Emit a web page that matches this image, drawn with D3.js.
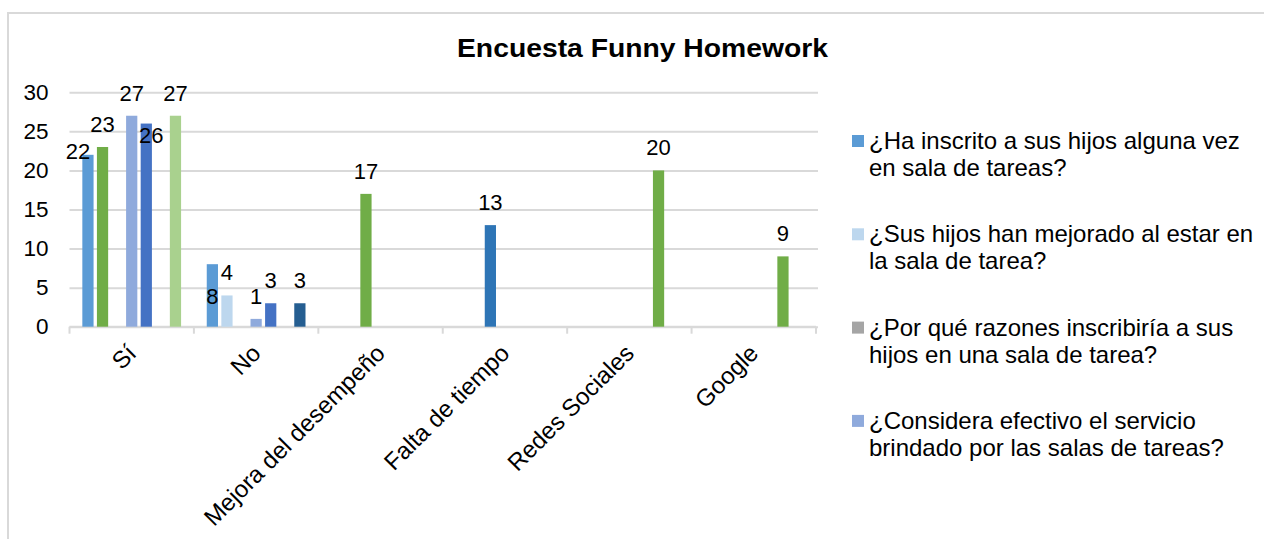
<!DOCTYPE html>
<html>
<head>
<meta charset="utf-8">
<script src="https://cdn.jsdelivr.net/npm/d3@7"></script>
<style>
  body { margin: 0; background: #fff; }
  text { font-family: "Liberation Sans", Arial, sans-serif; fill: #000; }
</style>
</head>
<body>
<div id="chart"></div>
<script>
// Data
const categories = ["Sí", "No", "Mejora del desempeño", "Falta de tiempo", "Redes Sociales", "Google"]

// one array per bar slot inside a category
const inscritoValues = [22, 8, null, null, null, null]
const mejoradoValues = [23, 4, null, null, null, null]
const razonesValues  = [null, null, 17, 13, null, null]
const efectivoValues = [27, 1, null, null, null, null]
const serie5Values   = [26, 3, null, null, null, null]
const serie6Values   = [null, null, null, null, 20, 9]
const serie7Values   = [27, 3, null, null, null, null]

const inscritoColors = ["#5B9BD5", "#5B9BD5"]
const mejoradoColors = ["#70AD47", "#BDD7EE"]
const razonesColors  = [null, null, "#70AD47", "#2E75B6"]
const efectivoColors = ["#8FAADC", "#8FAADC"]
const serie5Colors   = ["#4472C4", "#4472C4"]
const serie6Colors   = [null, null, null, null, "#70AD47", "#70AD47"]
const serie7Colors   = ["#A9D18E", "#255E91"]

const legendNames = [
  ["¿Ha inscrito a sus hijos alguna vez", "en sala de tareas?"],
  ["¿Sus hijos han mejorado al estar en", "la sala de tarea?"],
  ["¿Por qué razones inscribiría a sus", "hijos en una sala de tarea?"],
  ["¿Considera efectivo el servicio", "brindado por las salas de tareas?"]
]
const legendColors = ["#5B9BD5", "#BDD7EE", "#A5A5A5", "#8FAADC"]

const yTicks = [0, 5, 10, 15, 20, 25, 30]

const slots = [
  { values: inscritoValues, colors: inscritoColors },
  { values: mejoradoValues, colors: mejoradoColors },
  { values: razonesValues, colors: razonesColors },
  { values: efectivoValues, colors: efectivoColors },
  { values: serie5Values, colors: serie5Colors },
  { values: serie6Values, colors: serie6Colors },
  { values: serie7Values, colors: serie7Colors }
]

// labels that were dragged away from the default spot (slot-category) -> [dx, dy]
const labelNudge = { "0-0": [-10, 19], "4-0": [5, 34], "0-1": [0, 55] }

// Dimensions
const dimensions = { width: 1265, height: 539 }
const plot = { left: 69.5, right: 816, top: 92.3, bottom: 326.7 }

const svg = d3.select("#chart")
  .append("svg")
  .attr("width", dimensions.width)
  .attr("height", dimensions.height)

// chart frame (cropped: only top and left edges visible)
svg.append("path")
  .attr("d", `M8,539 V13 H1264`)
  .attr("fill", "none")
  .attr("stroke", "#d9d9d9")
  .attr("stroke-width", 2)

// Scales
const x = d3.scaleBand()
  .domain(categories)
  .range([plot.left, plot.right])

const xSlot = d3.scaleBand()
  .domain(d3.range(slots.length))
  .range([0, x.bandwidth()])
  .paddingInner(0.23)
  .paddingOuter(0.88)

const y = d3.scaleLinear()
  .domain([0, 30])
  .range([plot.bottom, plot.top])

// Gridlines + y labels
const yAxis = svg.append("g")
  .attr("transform", `translate(${plot.left},0)`)
  .call(d3.axisLeft(y).tickValues(yTicks).tickSize(-(plot.right - plot.left + 2)).tickPadding(21))
yAxis.select(".domain").remove()
yAxis.selectAll(".tick line").attr("stroke", "#d9d9d9").attr("stroke-width", 2)
yAxis.selectAll(".tick text")
  .attr("font-size", 22.5)
  .attr("font-family", "Liberation Sans, Arial, sans-serif")
  .attr("fill", "#000")

// x axis line and boundary ticks
const bounds = categories.map(c => x(c)).concat([plot.right])
const xAxis = svg.append("g")
xAxis.append("line")
  .attr("x1", plot.left).attr("x2", plot.right)
  .attr("y1", y(0)).attr("y2", y(0))
  .attr("stroke", "#d9d9d9").attr("stroke-width", 2)
xAxis.selectAll(".bt")
  .data(bounds)
  .join("line")
  .attr("x1", d => d).attr("x2", d => d)
  .attr("y1", y(0)).attr("y2", y(0) + 7)
  .attr("stroke", "#d9d9d9").attr("stroke-width", 2)

xAxis.selectAll(".xl")
  .data(categories)
  .join("text")
  .attr("transform", d => `translate(${x(d) + x.bandwidth() / 2 + 6},${y(0) + 28}) rotate(-45)`)
  .attr("text-anchor", "end")
  .attr("font-size", 24)
  .text(d => d)

// Bars
const bars = []
slots.forEach((s, si) => {
  s.values.forEach((v, ci) => {
    if (v != null) bars.push({ slot: si, cat: categories[ci], ci, value: v, color: s.colors[ci] })
  })
})

svg.append("g")
  .selectAll("rect")
  .data(bars)
  .join("rect")
  .attr("x", d => x(d.cat) + xSlot(d.slot))
  .attr("y", d => y(d.value))
  .attr("width", xSlot.bandwidth())
  .attr("height", d => y(0) - y(d.value))
  .attr("fill", d => d.color)

// Data labels
svg.append("g")
  .selectAll("text")
  .data(bars)
  .join("text")
  .attr("x", d => x(d.cat) + xSlot(d.slot) + xSlot.bandwidth() / 2 + (labelNudge[d.slot + "-" + d.ci] || [0, 0])[0])
  .attr("y", d => y(d.value) - 15 + (labelNudge[d.slot + "-" + d.ci] || [0, 0])[1])
  .attr("text-anchor", "middle")
  .attr("font-size", 22)
  .text(d => d.value)

// Title
svg.append("text")
  .attr("x", 457)
  .attr("y", 57)
  .attr("font-size", 25)
  .attr("font-weight", "bold")
  .attr("textLength", 371)
  .attr("lengthAdjust", "spacingAndGlyphs")
  .text("Encuesta Funny Homework")

// Legend
const legend = svg.append("g")
  .selectAll("g")
  .data(legendNames)
  .join("g")
  .attr("transform", (d, i) => `translate(852,${149 + i * 93.3})`)

legend.append("rect")
  .attr("y", -14)
  .attr("width", 12)
  .attr("height", 12)
  .attr("fill", (d, i) => legendColors[i])

legend.selectAll("text")
  .data(d => d)
  .join("text")
  .attr("x", 17)
  .attr("y", (d, i) => i * 27)
  .attr("font-size", 24)
  .text(d => d)
</script>
</body>
</html>
